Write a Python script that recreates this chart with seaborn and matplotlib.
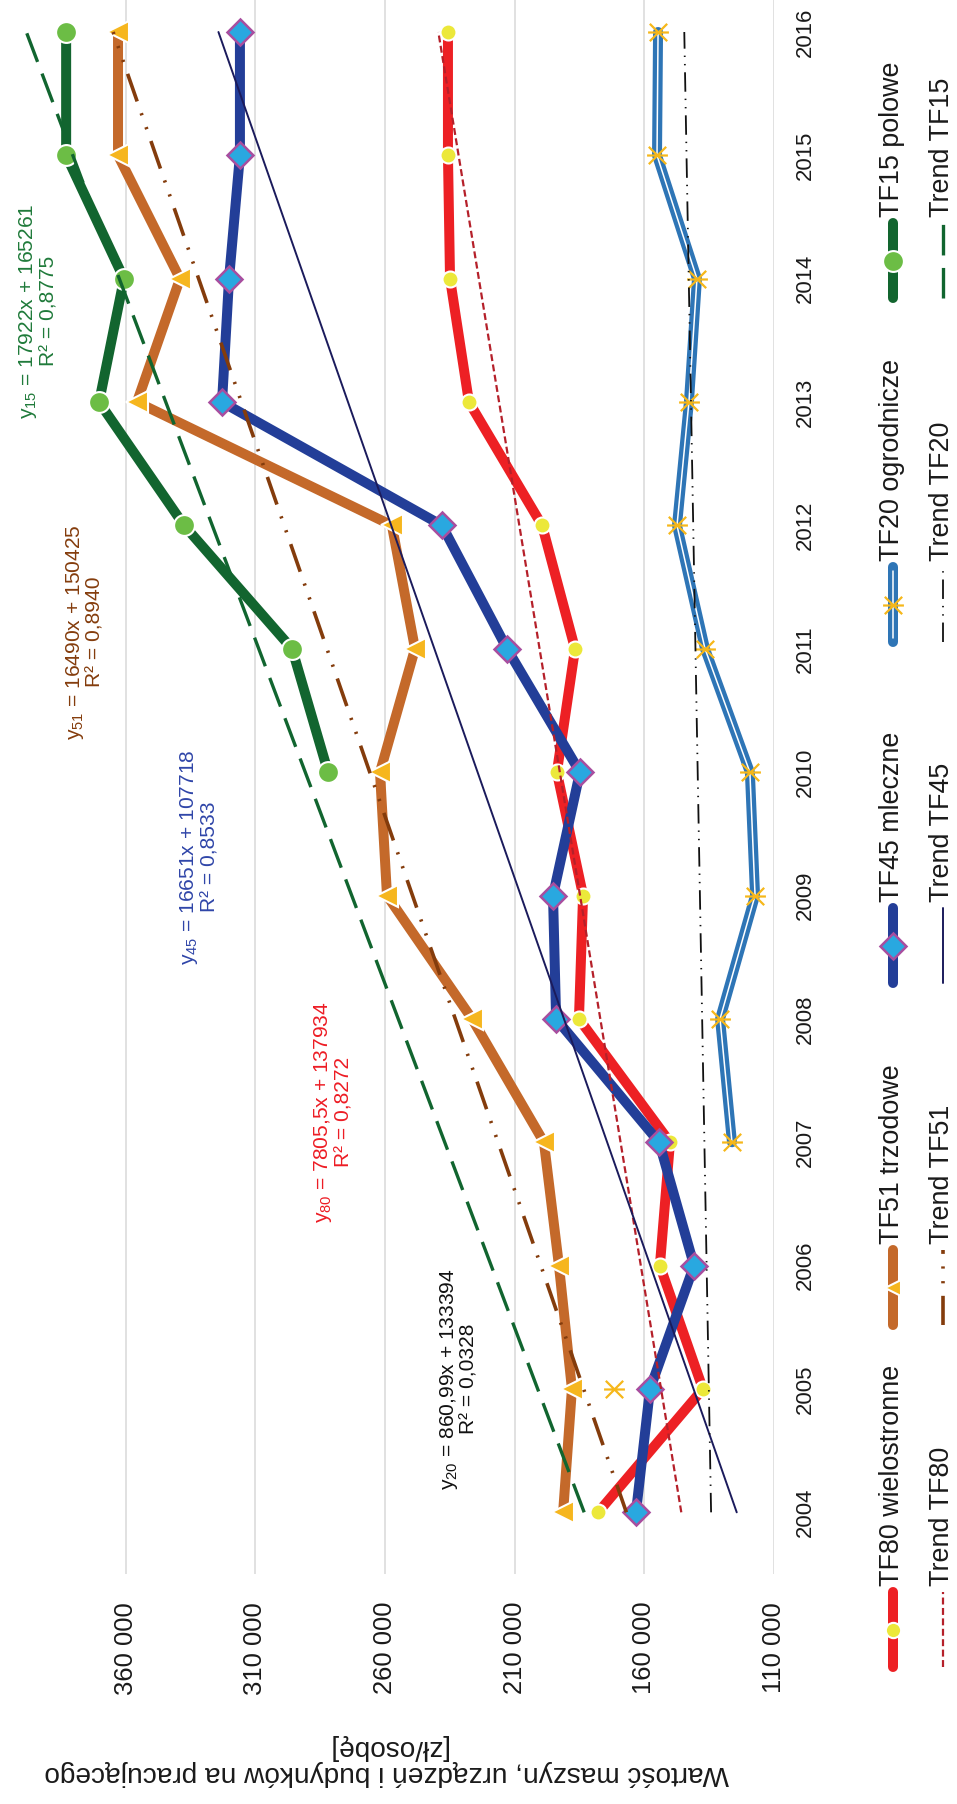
import numpy as np
import seaborn as sns
import matplotlib.pyplot as plt
from matplotlib import font_manager
from matplotlib.lines import Line2D
from matplotlib.path import Path

# dane
years = list(range(2004, 2017))
tf80 = [177800, 137400, 154000, 150100, 185200, 183600, 193700, 186700, 199400, 227600, 234900, 235700, 235700]
tf51 = [191300, 187900, 192900, 198700, 226400, 259200, 261900, 248400, 257300, 355600, 339000, 362900, 362900]
tf45 = [163200, 157800, 140800, 154300, 194000, 195200, 184800, 212900, 238000, 322800, 320100, 315900, 315900]
tf20 = [None, 171700, None, 126200, 130800, 117300, 119300, 136600, 147400, 142800, 139700, 155100, 154700]
tf15 = [None, None, None, None, None, None, 281900, 295800, 337400, 370200, 360600, 382900, 382900]

# równania trendów (z etykiet na wykresie)
trend_names = ["80", "51", "45", "20", "15"]
trend_slope = [7805.5, 16490, 16651, 860.99, 17922]
trend_icpt = [137934, 150425, 107718, 133394, 165261]
trend_r2 = ["0,8272", "0,8940", "0,8533", "0,0328", "0,8775"]

value_ticks = [110000, 160000, 210000, 260000, 310000, 360000]

# 1. styl seaborn
sns.set_theme(style="white")

# 2. czcionka po set_theme
names = {f.name for f in font_manager.fontManager.ttflist}
if "Liberation Sans Narrow" in names:
    FONT, k = "Liberation Sans Narrow", 1.0
else:
    FONT, k = "Liberation Sans", 0.84
plt.rcParams["font.family"] = [FONT, "DejaVu Sans"]
plt.rcParams["mathtext.fontset"] = "custom"
plt.rcParams["mathtext.rm"] = FONT
plt.rcParams["lines.scale_dashes"] = False

W, H = 957, 1804
fig = plt.figure(figsize=(W / 100, H / 100), dpi=100)


def fx(px):
    return px / W


def fy(py):
    return 1 - py / H


ax = fig.add_axes([0, fy(1574), fx(774), 1574 / H])

# kolory
c80, m80 = "#ED2024", "#ECE83A"
c51, m51 = "#C4692A", "#F6B61E"
c45, m45, e45 = "#233E98", "#29A8E0", "#A84E9F"
c20, m20 = "#2E75B6", "#F6B71A"
c15, m15 = "#12652F", "#6CBD45"

star = Path([(-1, -1), (1, 1), (-1, 1), (1, -1), (-1.2, 0), (1.2, 0)],
            [Path.MOVETO, Path.LINETO, Path.MOVETO, Path.LINETO, Path.MOVETO, Path.LINETO])

common = dict(orient="y", estimator=None, ax=ax, solid_joinstyle="round", solid_capstyle="round")
sns.lineplot(x=tf80, y=years, color=c80, linewidth=7.2, marker="o", markersize=11.5,
             markerfacecolor=m80, markeredgecolor="white", markeredgewidth=1.5, zorder=2.0, **common)
sns.lineplot(x=tf51, y=years, color=c51, linewidth=7.2, marker="<", markersize=16,
             markerfacecolor=m51, markeredgecolor="white", markeredgewidth=1.5, zorder=2.1, **common)
sns.lineplot(x=tf45, y=years, color=c45, linewidth=7.2, marker="D", markersize=13.5,
             markerfacecolor=m45, markeredgecolor=e45, markeredgewidth=1.8, zorder=2.2, **common)

# TF20 ma luki, więc zwykły plot (przerwy na NaN)
tf20_arr = np.array([np.nan if v is None else v for v in tf20], dtype=float)
ax.plot(tf20_arr, years, color=c20, lw=7.2, solid_joinstyle="round", zorder=2.3)
ax.plot(tf20_arr, years, color="white", lw=1.1, zorder=2.31)
ax.plot(tf20_arr, years, ls="none", marker=star, markersize=15, markeredgecolor=m20,
        markeredgewidth=1.6, zorder=2.32)

sns.lineplot(x=tf15, y=years, color=c15, linewidth=7.2, marker="o", markersize=15,
             markerfacecolor=m15, markeredgecolor="white", markeredgewidth=1.5, zorder=2.4, **common)

# linie trendu
trend_style = {
    "80": dict(color="#B5202A", lw=1.6, dashes=(5, 2.5)),
    "51": dict(color="#843C0C", lw=2.6, dashes=(21, 9, 1.6, 9, 1.6, 9)),
    "45": dict(color="#1B1B5C", lw=1.4),
    "20": dict(color="#111111", lw=1.3, dashes=(14, 5, 1, 5, 1, 5)),
    "15": dict(color="#11652F", lw=2.4, dashes=(22, 9)),
}
xi = np.array([1, len(years)])
for name, a, b in zip(trend_names, trend_slope, trend_icpt):
    ax.plot(a * xi + b, [years[0], years[-1]], zorder=4, **trend_style[name])

# osie
ax.set_xlim(408400, 110000)
ax.set_ylim(2003.5, 2016 + 32 / 123.3)
for s in ax.spines.values():
    s.set_visible(False)
ax.grid(axis="x", color="#D9D9D9", lw=1.1)
ax.grid(axis="y", visible=False)
ax.set_axisbelow(True)
ax.set_xlabel("")
ax.set_ylabel("")
ax.set_xticks(value_ticks, labels=[f"{v:,}".replace(",", " ") for v in value_ticks],
              rotation=90, ha="center", va="top")
ax.yaxis.tick_right()
ax.set_yticks(years, labels=[str(y) for y in years], rotation=90, ha="left", va="center")
ax.tick_params(axis="x", length=0, pad=20, labelsize=22 * k, labelcolor="#1a1a1a")
ax.tick_params(axis="y", length=0, pad=15, labelsize=19 * k, labelcolor="#1a1a1a")

fig.text(fx(387), fy(1760), "Wartość maszyn, urządzeń i budynków na pracującego\n[zł/osobę]",
         rotation=180, ha="center", va="center", multialignment="center",
         fontsize=24 * k, color="#1a1a1a", linespacing=1.0)

# etykiety równań
eq_pos = {"15": (38, 311, "#1F7A3A"), "51": (84, 632, "#843C0C"), "45": (199, 857, "#2F45A8"),
          "80": (333, 1112, "#ED1C24"), "20": (458, 1379, "#111111")}
for name, a, b, r2 in zip(trend_names, trend_slope, trend_icpt, trend_r2):
    x, y, col = eq_pos[name]
    a_txt = f"{a:.2f}".rstrip("0").rstrip(".").replace(".", ",")
    txt = "y$_{\\mathregular{" + name + "}}$ = " + a_txt + "x + " + str(b) + "\nR² = " + r2
    fig.text(fx(x), fy(y), txt, rotation=90, ha="center", va="center", multialignment="center",
             fontsize=18 * k, color=col, linespacing=1.0)

# legenda rysowana ręcznie (tekst pionowy)
rows = [1667, 1325, 983, 642, 298]
labels = ["TF80 wielostronne", "TF51 trzodowe", "TF45 mleczne", "TF20 ogrodnicze", "TF15 polowe"]
line_cols = [c80, c51, c45, c20, c15]
mk = [dict(marker="o", markersize=11, markerfacecolor=m80, markeredgecolor="white", markeredgewidth=1.5),
      dict(marker="<", markersize=12, markerfacecolor=m51, markeredgecolor="white", markeredgewidth=1.5),
      dict(marker="D", markersize=13, markerfacecolor=m45, markeredgecolor=e45, markeredgewidth=1.8),
      dict(marker=star, markersize=15, markeredgecolor=m20, markeredgewidth=1.6),
      dict(marker="o", markersize=15, markerfacecolor=m15, markeredgecolor="white", markeredgewidth=1.5)]
x1, x2 = 893, 943
for y0, lab, col, m, tn in zip(rows, labels, line_cols, mk, trend_names):
    y1 = y0 - 75
    fig.add_artist(Line2D([fx(x1)] * 2, [fy(y0), fy(y1)], transform=fig.transFigure,
                          color=col, lw=7.2, solid_capstyle="round"))
    if tn == "20":
        fig.add_artist(Line2D([fx(x1)] * 2, [fy(y0 - 4), fy(y1 + 4)], transform=fig.transFigure,
                              color="white", lw=1.1))
    fig.add_artist(Line2D([fx(x1)], [fy((y0 + y1) / 2)], transform=fig.transFigure, ls="none", **m))
    fig.text(fx(892), fy(y1 - 6), lab, rotation=90, ha="center", va="bottom",
             fontsize=23 * k, color="#1a1a1a")
    fig.add_artist(Line2D([fx(x2)] * 2, [fy(y0), fy(y1)], transform=fig.transFigure,
                          **trend_style[tn]))
    fig.text(fx(942), fy(y1 - 6), "Trend TF" + tn, rotation=90, ha="center", va="bottom",
             fontsize=23 * k, color="#1a1a1a")

fig.savefig("out.png", dpi=100)
